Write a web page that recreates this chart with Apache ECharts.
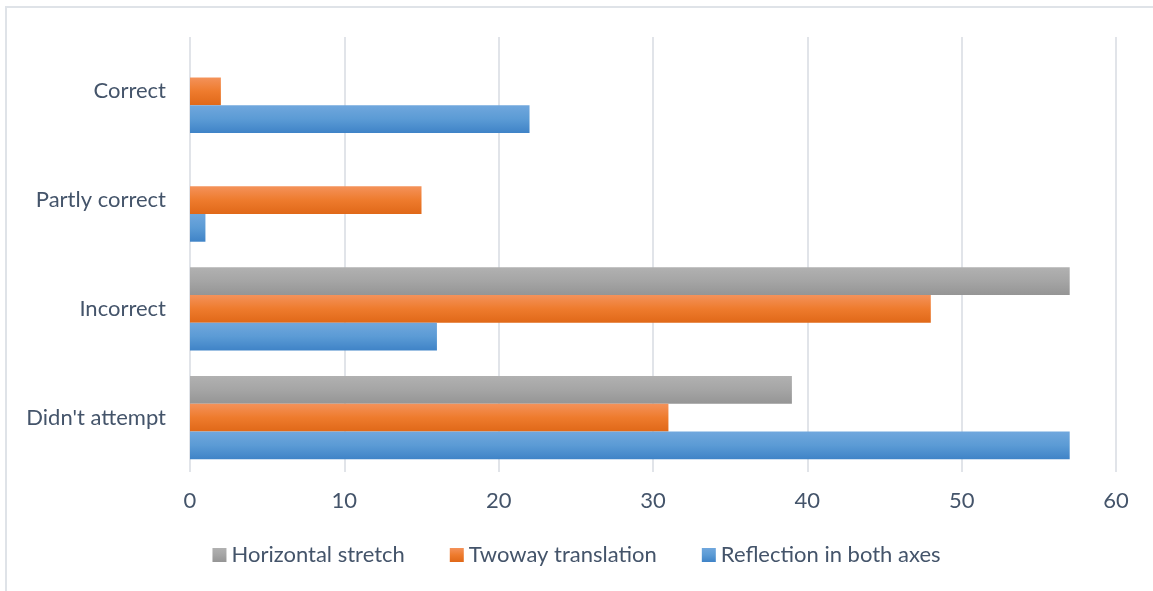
<!DOCTYPE html>
<html>
<head>
<meta charset="utf-8">
<script src="https://cdn.jsdelivr.net/npm/echarts@6/dist/echarts.min.js"></script>
<style>
  html, body { margin: 0; padding: 0; background: #ffffff; }
  #chart { width: 1153px; height: 591px; }
</style>
</head>
<body>
<div id="chart"></div>
<script>
// Response categories, listed bottom to top along the category axis
const categories = ["Didn't attempt", "Incorrect", "Partly correct", "Correct"];

// Number of responses per task
const reflectionBoth = [57, 16, 1, 22];
const twowayTranslation = [31, 48, 15, 2];
const horizontalStretch = [39, 57, null, null];

const valueTicks = { min: 0, max: 60, interval: 10 };

const textColor = '#44546a';
const gridColor = '#e1e4e9';
const fontFamily = 'Lato, "Open Sans", sans-serif';

function vgrad(top, mid, bottom) {
  return new echarts.graphic.LinearGradient(0, 0, 0, 1, [
    { offset: 0, color: top },
    { offset: 0.5, color: mid },
    { offset: 1, color: bottom }
  ]);
}

const blueFill = vgrad('#70a7dd', '#5b9bd5', '#3f83c7');
const orangeFill = vgrad('#f4925a', '#ee7b2d', '#e06818');
const grayFill = vgrad('#b1b1b1', '#a5a5a5', '#959595');

const chart = echarts.init(document.getElementById('chart'), null, { renderer: 'canvas' });

chart.setOption({
  backgroundColor: '#ffffff',
  animation: false,
  graphic: [{
    type: 'rect',
    shape: { x: 6, y: 7, width: 1300, height: 800 },
    style: { fill: 'none', stroke: '#dfe3e8', lineWidth: 2 },
    silent: true
  }],
  grid: { left: 190, right: 37, top: 37, bottom: 119, containLabel: false },
  legend: {
    data: ['Horizontal stretch', 'Twoway translation', 'Reflection in both axes'],
    bottom: 20,
    left: 'center',
    icon: 'rect',
    itemWidth: 14,
    itemHeight: 14,
    itemGap: 45,
    textStyle: { color: textColor, fontSize: 22, fontFamily: fontFamily }
  },
  xAxis: {
    type: 'value',
    min: valueTicks.min,
    max: valueTicks.max,
    interval: valueTicks.interval,
    axisLine: { show: false },
    axisTick: { show: false },
    splitLine: { lineStyle: { color: gridColor, width: 2 } },
    axisLabel: { color: textColor, fontSize: 22, fontFamily: fontFamily, margin: 18 }
  },
  yAxis: {
    type: 'category',
    data: categories,
    axisLine: { show: false },
    axisTick: { show: false },
    axisLabel: { color: textColor, fontSize: 22, fontFamily: fontFamily, margin: 24 }
  },
  series: [
    {
      name: 'Horizontal stretch', type: 'bar', data: horizontalStretch,
      barGap: '0%', barCategoryGap: '23.5%',
      itemStyle: { color: grayFill }
    },
    {
      name: 'Twoway translation', type: 'bar', data: twowayTranslation,
      barGap: '0%', barCategoryGap: '23.5%',
      itemStyle: { color: orangeFill }
    },
    {
      name: 'Reflection in both axes', type: 'bar', data: reflectionBoth,
      barGap: '0%', barCategoryGap: '23.5%',
      itemStyle: { color: blueFill }
    }
  ]
});
</script>
</body>
</html>
